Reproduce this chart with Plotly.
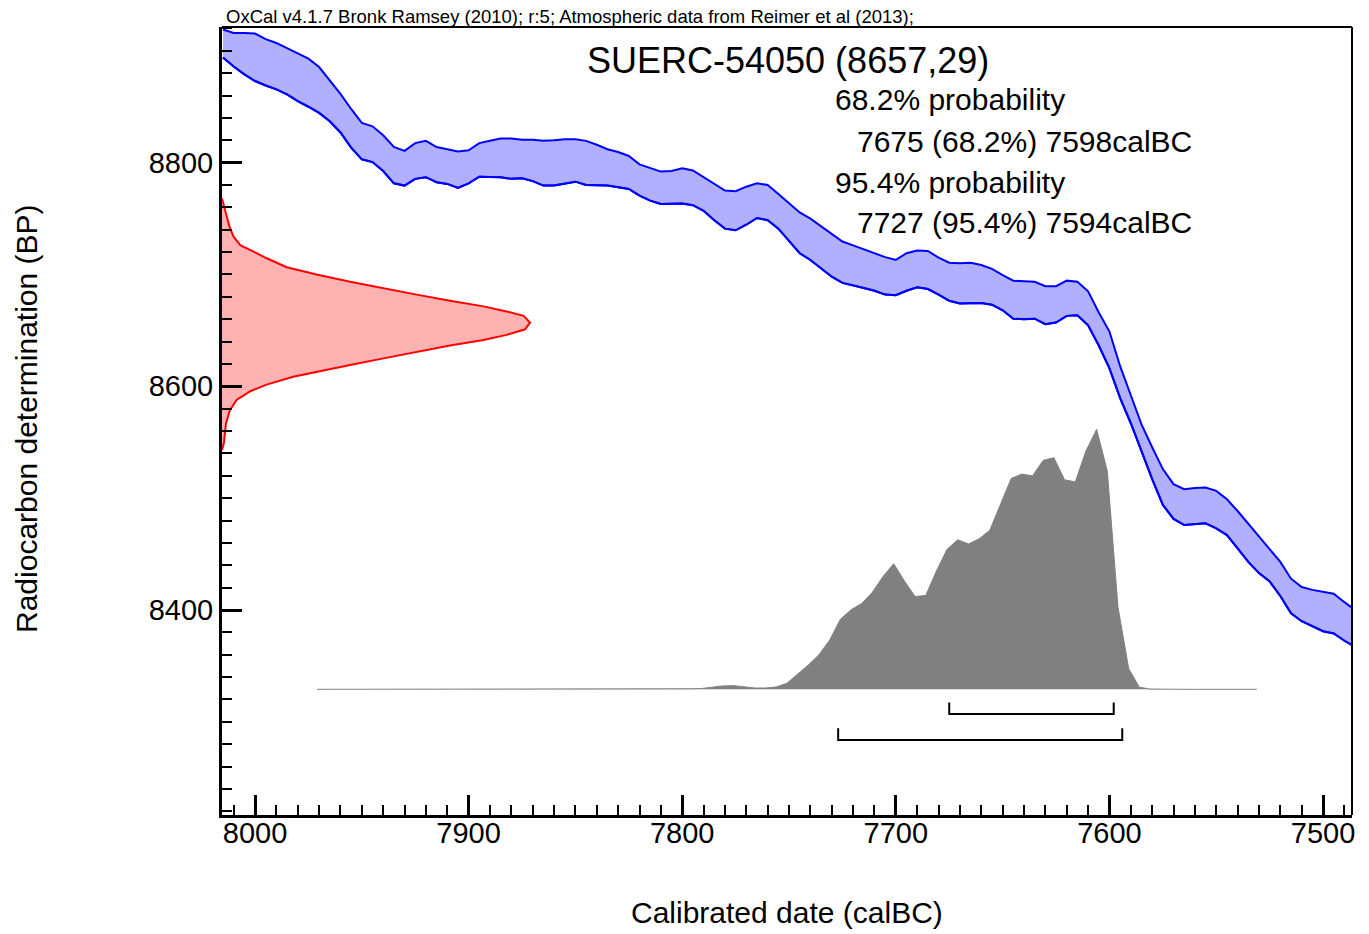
import plotly.graph_objects as go

# ---------------- data ----------------
cal_years = [8015, 8010, 8005, 8000, 7995, 7990, 7985, 7980, 7975, 7970, 7965, 7960, 7955, 7950,
             7945, 7940, 7935, 7930, 7925, 7920, 7915, 7910, 7905, 7900, 7895, 7890, 7885, 7880,
             7875, 7870, 7865, 7860, 7855, 7850, 7845, 7840, 7835, 7830, 7825, 7820, 7815, 7810,
             7805, 7800, 7795, 7790, 7785, 7780, 7775, 7770, 7765, 7760, 7755, 7750, 7745, 7740,
             7735, 7730, 7725, 7720, 7715, 7710, 7705, 7700, 7695, 7690, 7685, 7680, 7675, 7670,
             7665, 7660, 7655, 7650, 7645, 7640, 7635, 7630, 7625, 7620, 7615, 7610, 7605, 7600,
             7595, 7590, 7585, 7580, 7575, 7570, 7565, 7560, 7555, 7550, 7545, 7540, 7535, 7530,
             7525, 7520, 7515, 7510, 7505, 7500, 7495, 7490, 7485]
cal_upper = [8919, 8916, 8916, 8915.5, 8910.5, 8907, 8902.5, 8898, 8893, 8885.5, 8874, 8861.5, 8848, 8835.5,
             8832.5, 8824.5, 8814, 8810.5, 8817.5, 8819.5, 8814, 8812, 8810, 8811, 8817.5, 8819.5, 8821.5, 8821.5,
             8820.5, 8820.5, 8819.5, 8820, 8821, 8821, 8819.5, 8816, 8812, 8809.5, 8806, 8798.5, 8795.5, 8792,
             8792.5, 8795, 8793, 8787, 8781, 8775, 8774.5, 8778.5, 8781.5, 8780, 8772, 8763.5, 8755.5, 8750,
             8743, 8736, 8729.5, 8726, 8722.5, 8719, 8715.5, 8713, 8719, 8721.5, 8721, 8715, 8710.5, 8710,
             8710.5, 8708.5, 8705, 8699.5, 8694.5, 8694, 8693.5, 8689.5, 8689.5, 8694.5, 8693.5, 8685, 8666, 8649,
             8618, 8592, 8566, 8545.5, 8526, 8512.5, 8508, 8509, 8509.5, 8506.5, 8499, 8488.5, 8477, 8465.5,
             8455, 8443, 8428, 8420.5, 8418, 8416.5, 8414.5, 8407, 8400]
cal_lower = [8894, 8886, 8879, 8873, 8869, 8865.5, 8861, 8855, 8850, 8844.5, 8837, 8827, 8813.5, 8803,
             8800.5, 8792.5, 8781.5, 8779.5, 8785.5, 8787, 8782.5, 8781, 8777.5, 8781.5, 8787.5, 8787.5, 8787, 8785.5,
             8786, 8783.5, 8779.5, 8779.5, 8781, 8783, 8780, 8780, 8779.5, 8778, 8776.5, 8770.5, 8766, 8763,
             8763.5, 8763.5, 8762, 8757, 8748.5, 8741, 8739.5, 8744.5, 8750.5, 8748.5, 8741, 8729.5, 8719, 8713,
             8705.5, 8698, 8692.5, 8690.5, 8688, 8685.5, 8682, 8681.5, 8685.5, 8688.5, 8687, 8682, 8676.5, 8674,
             8674.5, 8674.5, 8673, 8668, 8660.5, 8660, 8660.5, 8655.5, 8657, 8663, 8663.5, 8654.5, 8636.5, 8616,
             8589.5, 8567, 8542, 8517, 8494, 8481.5, 8476, 8477, 8477.5, 8473, 8467, 8455, 8443, 8433,
             8425.5, 8412.5, 8397, 8390, 8385.5, 8381, 8379, 8372.5, 8367]

# radiocarbon measurement distribution (relative probability vs BP)
rc_bp = [8768, 8758, 8752, 8743, 8734, 8726, 8722, 8714.5, 8706.5, 8700, 8693.5, 8687.5, 8682, 8676.5,
         8671.5, 8667, 8663, 8657, 8651, 8646, 8641.5, 8636.5, 8631, 8625, 8619, 8613, 8608.5, 8601.5,
         8595.5, 8591, 8588, 8579, 8567, 8549, 8543]
rc_prob = [0.0, 0.010, 0.015, 0.024, 0.037, 0.060, 0.091, 0.145, 0.210, 0.307, 0.416, 0.524, 0.632, 0.740,
           0.849, 0.924, 0.979, 1.0, 0.984, 0.924, 0.849, 0.740, 0.632, 0.524, 0.416, 0.307, 0.231, 0.145,
           0.091, 0.066, 0.048, 0.026, 0.013, 0.006, 0.0]

# calibrated distribution (relative probability vs calBC)
post_years = [7971, 7966, 7961, 7956, 7951, 7946, 7941, 7936, 7931, 7926, 7921, 7916, 7911, 7906, 7901,
              7896, 7891, 7886, 7881, 7876, 7871, 7866, 7861, 7856, 7851, 7846, 7841, 7836, 7831, 7826,
              7821, 7816, 7811, 7806, 7801, 7796, 7791, 7786, 7781, 7776, 7771, 7766, 7761, 7756, 7751,
              7746, 7741, 7736, 7731, 7726, 7721, 7716, 7711, 7706, 7701, 7696, 7691, 7686, 7681, 7676,
              7671, 7666, 7661, 7656, 7651, 7646, 7641, 7636, 7631, 7626, 7621, 7616, 7611, 7606, 7601,
              7596, 7591, 7586, 7581, 7576, 7571, 7566, 7561, 7556, 7551, 7546, 7541, 7536, 7531]
post_prob = [0, 0, 0, 0, 0, 0, 0, 0, 0, 0, 0, 0, 0, 0, 0,
             0, 0, 0, 0, 0, 0, 0, 0, 0, 0, 0, 0, 0, 0, 0,
             0, 0, 0, 0, 0.001, 0.002, 0.003, 0.009, 0.013, 0.014, 0.010, 0.005, 0.005, 0.009, 0.023,
             0.057, 0.093, 0.133, 0.189, 0.269, 0.306, 0.330, 0.373, 0.434, 0.483, 0.417, 0.357, 0.361, 0.455, 0.539,
             0.575, 0.559, 0.579, 0.612, 0.714, 0.811, 0.828, 0.821, 0.881, 0.891, 0.806, 0.798, 0.917, 1.0, 0.840,
             0.316, 0.080, 0.008, 0.001, 0, 0, 0, 0, 0, 0, 0, 0, 0, 0]

range_68 = [7675, 7598]
range_95 = [7727, 7594]

header_text = "OxCal v4.1.7 Bronk Ramsey (2010); r:5; Atmospheric data from Reimer et al (2013);"
title_text = "SUERC-54050 (8657,29)"
info_lines = ["68.2% probability", "7675 (68.2%) 7598calBC", "95.4% probability", "7727 (95.4%) 7594calBC"]
x_title = "Calibrated date (calBC)"
y_title = "Radiocarbon determination (BP)"

# ---------------- layout constants ----------------
W, H = 1369, 934
L, R, T, B = 222, 17, 27, 119
XR = [8015.45, 7486.45]
YR = [8216.7, 8921.3]
RC_WIDTH = 144.2          # years spanned by the radiocarbon curve peak
POST_BASE = 8329.1        # baseline of the calibrated distribution
POST_HEIGHT = 232.4       # BP units spanned by its peak
FONT = "Liberation Sans, Arial, sans-serif"


def pxx(px):
    return (px - L) / (W - L - R)


def pxy(py):
    return 1 - (py - T) / (H - T - B)


fig = go.Figure()

# calibration curve band
fig.add_trace(go.Scatter(x=cal_years, y=cal_lower, mode="lines",
                         line=dict(color="#0000ff", width=2), hoverinfo="skip"))
fig.add_trace(go.Scatter(x=cal_years, y=cal_upper, mode="lines", fill="tonexty",
                         fillcolor="rgb(176,176,255)",
                         line=dict(color="#0000ff", width=2), hoverinfo="skip"))
fig.add_trace(go.Scatter(x=cal_years, y=cal_lower, mode="lines",
                         line=dict(color="#0000ff", width=2), hoverinfo="skip"))

# radiocarbon distribution on the y axis
rc_x = [XR[0] - p * RC_WIDTH for p in rc_prob]
fig.add_trace(go.Scatter(x=[XR[0]] + rc_x + [XR[0]], y=[rc_bp[0]] + rc_bp + [rc_bp[-1]],
                         mode="lines", fill="toself", fillcolor="rgb(255,178,178)",
                         line=dict(width=0, color="rgba(0,0,0,0)"), hoverinfo="skip"))
fig.add_trace(go.Scatter(x=rc_x, y=rc_bp, mode="lines",
                         line=dict(color="#ff0000", width=2), hoverinfo="skip"))

# calibrated distribution
post_y = [POST_BASE + p * POST_HEIGHT for p in post_prob]
fig.add_trace(go.Scatter(x=post_years, y=post_y, mode="lines", fill="toself",
                         fillcolor="#808080", line=dict(color="#808080", width=1),
                         hoverinfo="skip"))

# range brackets
for rng, ylow, ytop in [(range_68, 8307.0, 8317.4), (range_95, 8283.7, 8294.2)]:
    fig.add_trace(go.Scatter(x=[rng[0], rng[0], rng[1], rng[1]], y=[ytop, ylow, ylow, ytop],
                             mode="lines", line=dict(color="black", width=2), hoverinfo="skip"))

ann = []
ann.append(dict(text=header_text, x=pxx(224), y=pxy(17), xref="paper", yref="paper",
                xanchor="left", yanchor="middle", showarrow=False,
                font=dict(family=FONT, size=18.5, color="black")))
ann.append(dict(text=title_text, x=pxx(787.5), y=pxy(61), xref="paper", yref="paper",
                xanchor="center", yanchor="middle", showarrow=False,
                font=dict(family=FONT, size=36, color="black")))
for txt, xp, yp in zip(info_lines, [833, 855, 833, 855], [100, 141, 182, 223]):
    ann.append(dict(text=txt, x=pxx(xp), y=pxy(yp), xref="paper", yref="paper",
                    xanchor="left", yanchor="middle", showarrow=False,
                    font=dict(family=FONT, size=30, color="black")))
ann.append(dict(text=x_title, x=pxx(787), y=pxy(912), xref="paper", yref="paper",
                xanchor="center", yanchor="middle", showarrow=False,
                font=dict(family=FONT, size=30, color="black")))
ann.append(dict(text=y_title, x=pxx(27), y=pxy(419), xref="paper", yref="paper",
                xanchor="center", yanchor="middle", showarrow=False, textangle=-90,
                font=dict(family=FONT, size=30, color="black")))

fig.update_layout(
    width=W, height=H,
    margin=dict(l=L, r=R, t=T, b=B, pad=0),
    paper_bgcolor="white", plot_bgcolor="white",
    showlegend=False,
    annotations=ann,
    shapes=[
        dict(type="line", xref="paper", yref="paper", x0=0, x1=1, y0=1, y1=1,
             line=dict(color="black", width=2)),
        dict(type="line", xref="paper", yref="paper", x0=1, x1=1, y0=0, y1=1,
             line=dict(color="black", width=2)),
    ],
    font=dict(family=FONT, color="black"),
)
fig.update_xaxes(range=XR, autorange=False, showgrid=False, zeroline=False,
                 showline=True, linecolor="black", linewidth=3,
                 tickmode="linear", tick0=7500, dtick=100,
                 ticks="inside", ticklen=20, tickwidth=2.5, tickcolor="black",
                 ticklabelstandoff=-10,
                 tickfont=dict(family=FONT, size=29, color="black"),
                 minor=dict(dtick=10, tick0=7500, ticks="inside", ticklen=10, tickwidth=1.5,
                            tickcolor="black", showgrid=False))
fig.update_yaxes(range=YR, autorange=False, showgrid=False, zeroline=False,
                 showline=True, linecolor="black", linewidth=3,
                 tickmode="linear", tick0=8400, dtick=200,
                 ticks="inside", ticklen=20, tickwidth=2.5, tickcolor="black",
                 tickfont=dict(family=FONT, size=29, color="black"),
                 minor=dict(dtick=20, tick0=8400, ticks="inside", ticklen=10, tickwidth=1.5,
                            tickcolor="black", showgrid=False))

fig.write_html("out.html")
